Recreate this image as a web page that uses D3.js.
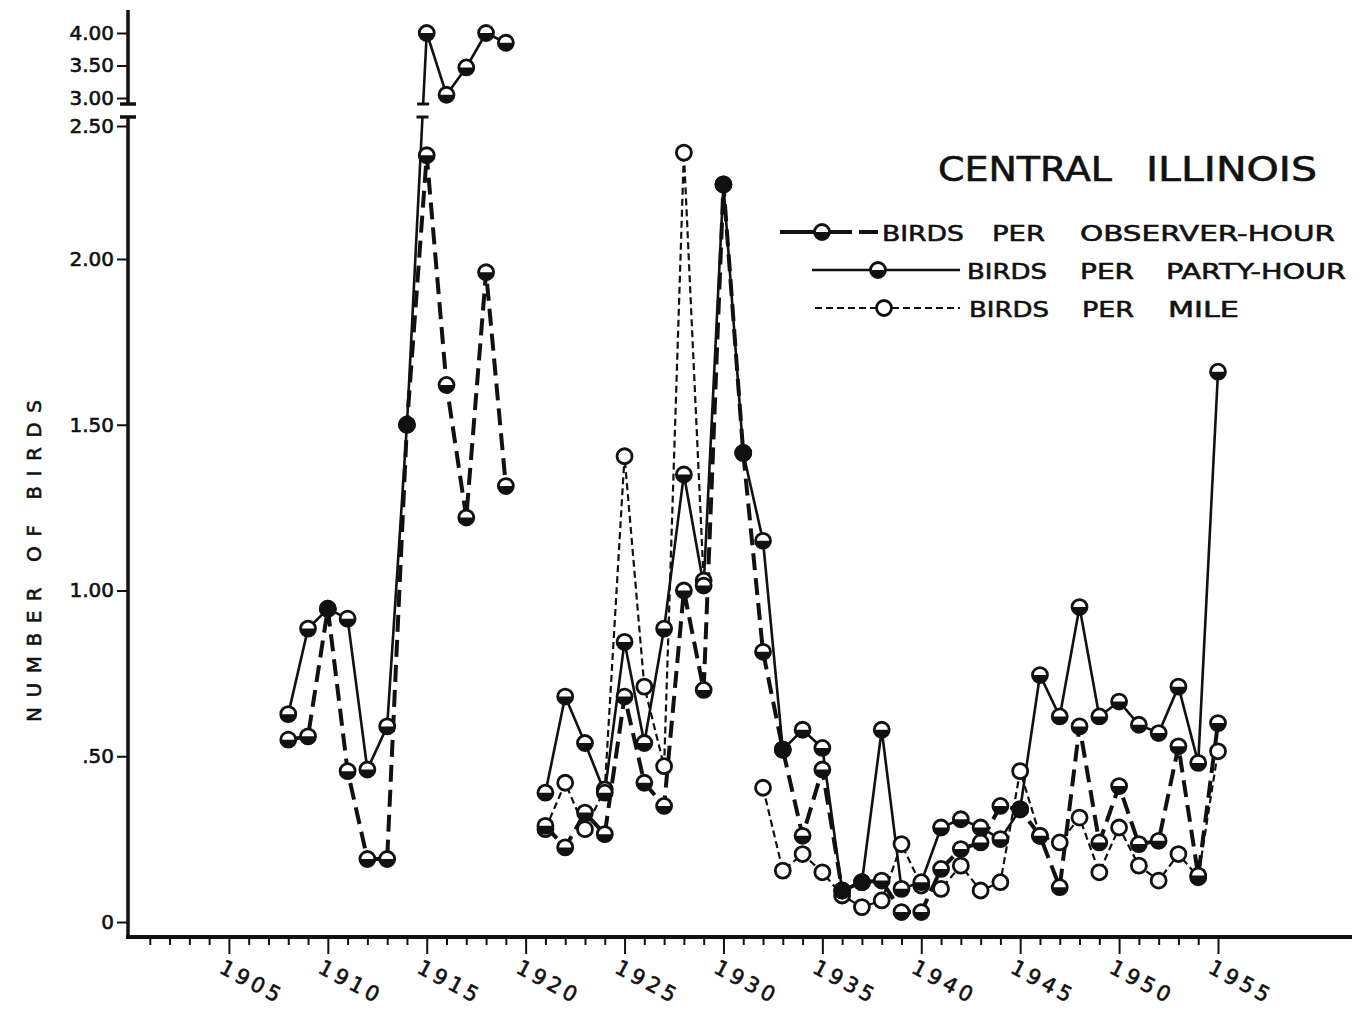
<!DOCTYPE html>
<html><head><meta charset="utf-8">
<script src="https://cdn.jsdelivr.net/npm/d3@7"></script>
<style>
body{margin:0;background:#fff}
svg{display:block}
text{font-family:"DejaVu Sans",sans-serif;fill:#111;stroke:#111;stroke-width:0.6px}
</style>
</head><body>
<svg id="c" width="1365" height="1011"></svg>
<script>
// ---------------- data ----------------
const years = [1908,1909,1910,1911,1912,1913,1914,1915,1916,1917,1918,1919,1920,1921,1922,1923,1924,1925,1926,1927,1928,1929,1930,1931,1932,1933,1934,1935,1936,1937,1938,1939,1940,1941,1942,1943,1944,1945,1946,1947,1948,1949,1950,1951,1952,1953,1954,1955];
const observerHour = [0.55,0.56,0.945,0.455,0.19,0.19,1.50,2.39,1.62,1.22,1.96,1.315,null,0.29,0.225,0.33,0.265,0.68,0.42,0.35,1.00,0.70,2.28,1.415,0.815,0.52,0.26,0.46,0.095,0.12,0.125,0.03,0.03,0.16,0.22,0.24,0.35,0.34,0.26,0.105,0.59,0.24,0.41,0.235,0.245,0.53,0.14,0.60];
const partyHour = [0.627,0.885,0.945,0.915,0.46,0.59,1.50,4.00,3.05,3.47,4.00,3.85,null,0.39,0.68,0.54,0.39,0.845,0.54,0.885,1.35,1.015,2.28,1.415,1.15,0.52,0.58,0.525,0.095,0.12,0.58,0.10,0.12,0.285,0.31,0.285,0.25,0.34,0.745,0.62,0.95,0.62,0.665,0.595,0.57,0.71,0.48,1.66];
const perMile = [null,null,null,null,null,null,null,null,null,null,null,null,null,0.28,0.42,0.28,0.40,1.405,0.71,0.47,2.40,1.03,null,null,0.405,0.155,0.205,0.15,0.08,0.045,0.065,0.235,0.11,0.10,0.17,0.095,0.12,0.455,0.26,0.24,0.315,0.15,0.285,0.17,0.125,0.205,0.135,0.515];

const lowerTickValues = [0,0.5,1,1.5,2,2.5];
const lowerTickLabels = ["0",".50","1.00","1.50","2.00","2.50"];
const upperTickValues = [3,3.5,4];
const upperTickLabels = ["3.00","3.50","4.00"];
const xLabelYears = [1905,1910,1915,1920,1925,1930,1935,1940,1945,1950,1955];
const xMinorYears = [1901,1902,1903,1904,1905,1906,1907,1908,1909,1910,1911,1912,1913,1914,1915,1916,1917,1918,1919,1920,1921,1922,1923,1924,1925,1926,1927,1928,1929,1930,1931,1932,1933,1934,1935,1936,1937,1938,1939,1940,1941,1942,1943,1944,1945,1946,1947,1948,1949,1950,1951,1952,1953,1954,1955];
const title = ["CENTRAL","ILLINOIS"];
const legendLabels = [["BIRDS","PER","OBSERVER-HOUR"],["BIRDS","PER","PARTY-HOUR"],["BIRDS","PER","MILE"]];
const yTitle = "NUMBER OF BIRDS";

// ---------------- scales ----------------
const INK = "#111";
const svg = d3.select("#c");
const x = d3.scaleLinear().domain([1900,1955]).range([130,1218]);
const yLow = d3.scaleLinear().domain([0,2,2.5]).range([922,259,126]);
const yUp = d3.scaleLinear().domain([3,4]).range([98,33]);
const y = v => v > 2.75 ? yUp(v) : yLow(v);

const axisX = x(1900) - 2;
const axisY = 937;

// ---------------- axes ----------------
const gA = svg.append("g");
gA.append("line").attr("x1",axisX).attr("x2",axisX).attr("y1",10).attr("y2",104).attr("stroke",INK).attr("stroke-width",3.5);
gA.append("line").attr("x1",axisX).attr("x2",axisX).attr("y1",117).attr("y2",axisY+2).attr("stroke",INK).attr("stroke-width",3.5);
[104,117].forEach(yy=>gA.append("line").attr("x1",axisX-8).attr("x2",axisX+8).attr("y1",yy).attr("y2",yy).attr("stroke",INK).attr("stroke-width",3.5));

function styleAxis(g){
  g.select(".domain").remove();
  g.selectAll(".tick line").attr("stroke",INK).attr("stroke-width",2);
  g.selectAll(".tick text").attr("font-size",20).attr("fill",INK).style("font-family","DejaVu Sans");
}
const gyl = gA.append("g").attr("transform",`translate(${axisX},0)`)
  .call(d3.axisLeft(yLow).tickValues(lowerTickValues).tickFormat((d,i)=>lowerTickLabels[i]).tickSize(11).tickPadding(3));
styleAxis(gyl);
const gyu = gA.append("g").attr("transform",`translate(${axisX},0)`)
  .call(d3.axisLeft(yUp).tickValues(upperTickValues).tickFormat((d,i)=>upperTickLabels[i]).tickSize(11).tickPadding(3));
styleAxis(gyu);

gA.append("line").attr("x1",axisX-2).attr("x2",1352).attr("y1",axisY).attr("y2",axisY).attr("stroke",INK).attr("stroke-width",4);
const gx = gA.append("g").attr("transform",`translate(0,${axisY})`)
  .call(d3.axisBottom(x).tickValues(xMinorYears).tickFormat("").tickSize(8));
gx.select(".domain").remove();
gx.selectAll(".tick line").attr("stroke",INK).attr("stroke-width",2)
  .attr("y2",d=>xLabelYears.includes(d)?17:8);
gA.selectAll(".xlab").data(xLabelYears).enter().append("text")
  .attr("class","xlab")
  .attr("transform",d=>`translate(${x(d)-11},972) rotate(28)`)
  .attr("font-size",21).attr("letter-spacing",4)
  .text(d=>d);

svg.append("text").attr("transform","translate(41,561) rotate(-90)")
  .attr("text-anchor","middle").attr("font-size",20)
  .attr("textLength",322).attr("lengthAdjust","spacing").text(yTitle);

// ---------------- series ----------------
const rows = years.map((yr,i)=>({yr, obs:observerHour[i], party:partyHour[i], mile:perMile[i]}));
const gL = svg.append("g");
function line(key){
  return d3.line().defined(d=>d[key]!=null).x(d=>x(d.yr)).y(d=>y(d[key]));
}
gL.append("path").datum(rows).attr("d",line("mile")).attr("fill","none")
  .attr("stroke",INK).attr("stroke-width",2.2).attr("stroke-dasharray","7,4");
gL.append("path").datum(rows).attr("d",line("obs")).attr("fill","none")
  .attr("stroke",INK).attr("stroke-width",4).attr("stroke-dasharray","17,8");
gL.append("path").datum(rows).attr("d",line("party")).attr("fill","none")
  .attr("stroke",INK).attr("stroke-width",2.6);

(function(){
  for(let i=1;i<rows.length;i++){
    const a=rows[i-1], b=rows[i];
    if(a.party==null||b.party==null) continue;
    if(a.party<=2.75 && b.party>2.75){
      const ya=y(a.party), yb=y(b.party), xa=x(a.yr), xb=x(b.yr);
      const at = yy => xa + (xb-xa)*(ya-yy)/(ya-yb);
      svg.append("rect").attr("x",at(110)-8).attr("y",105).attr("width",16).attr("height",11).attr("fill","#fff");
      [104,117].forEach(yy=>svg.append("line").attr("x1",at(yy)-6).attr("x2",at(yy)+6).attr("y1",yy).attr("y2",yy).attr("stroke",INK).attr("stroke-width",3));
    }
  }
})();

const R = 7.5;
function marker(g,cx,cy,kind){
  const m = g.append("g").attr("transform",`translate(${cx},${cy})`);
  m.append("circle").attr("r",R).attr("fill",kind==="full"?INK:"#fff");
  if(kind==="half") m.append("path").attr("d",`M${-R},0A${R},${R} 0 0 0 ${R},0Z`).attr("fill",INK);
  m.append("circle").attr("r",R).attr("fill","none").attr("stroke",INK).attr("stroke-width",2.8);
}
const gM = svg.append("g");
rows.forEach(d=>{ if(d.mile!=null) marker(gM,x(d.yr),y(d.mile),"open"); });
rows.forEach(d=>{ if(d.obs!=null) marker(gM,x(d.yr),y(d.obs), d.obs===d.party?"full":"half"); });
rows.forEach(d=>{ if(d.party!=null) marker(gM,x(d.yr),y(d.party), d.obs===d.party?"full":"half"); });

// ---------------- title & legend ----------------
svg.append("text").attr("x",938).attr("y",181).attr("font-size",33).attr("textLength",174).attr("lengthAdjust","spacingAndGlyphs").text(title[0]);
svg.append("text").attr("x",1146).attr("y",181).attr("font-size",33).attr("textLength",171).attr("lengthAdjust","spacingAndGlyphs").text(title[1]);

const gLeg = svg.append("g");
gLeg.append("line").attr("x1",780).attr("x2",814).attr("y1",232).attr("y2",232).attr("stroke",INK).attr("stroke-width",4);
gLeg.append("line").attr("x1",830).attr("x2",878).attr("y1",232).attr("y2",232).attr("stroke",INK).attr("stroke-width",4).attr("stroke-dasharray","22,7");
marker(gLeg,822,232,"half");
gLeg.append("line").attr("x1",812).attr("x2",960).attr("y1",270).attr("y2",270).attr("stroke",INK).attr("stroke-width",2.6);
marker(gLeg,878,270,"half");
gLeg.append("line").attr("x1",815).attr("x2",960).attr("y1",308).attr("y2",308).attr("stroke",INK).attr("stroke-width",2.2).attr("stroke-dasharray","7,4");
marker(gLeg,884,308,"open");

const legendWords = [
  [[882,82],[992,53],[1080,255]],
  [[967,80],[1080,54],[1166,180]],
  [[969,80],[1082,52],[1168,71]]
];
const legendBase = [241,279,317];
legendLabels.forEach((row,r)=>row.forEach((w,k)=>{
  gLeg.append("text").attr("x",legendWords[r][k][0]).attr("y",legendBase[r])
    .attr("font-size",22).attr("textLength",legendWords[r][k][1]).attr("lengthAdjust","spacingAndGlyphs").text(w);
}));
</script>
</body></html>
